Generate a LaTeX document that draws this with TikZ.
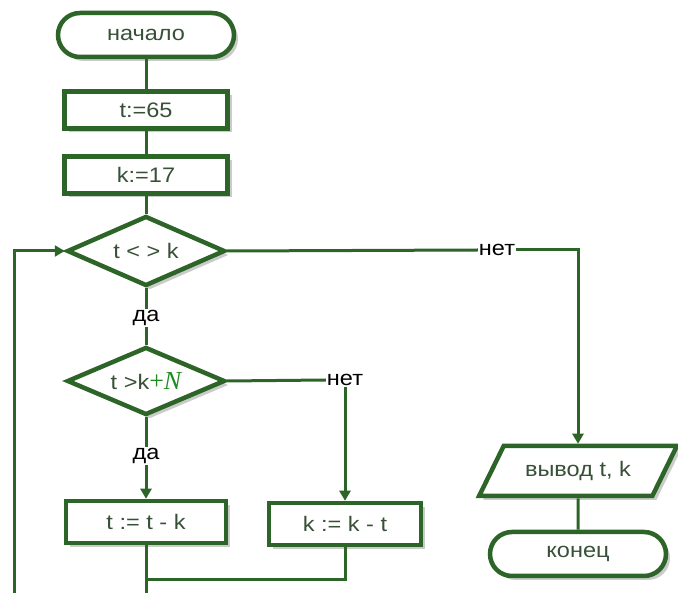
\documentclass[tikz,border=0pt]{standalone}
\usepackage{fontspec}
\setmainfont[FakeStretch=1.12]{Liberation Sans}
\newfontfamily\serifN{Liberation Serif}
\usetikzlibrary{shapes.geometric,shapes.misc,shadows,arrows.meta}
\definecolor{lc}{RGB}{45,100,40}
\definecolor{tc}{RGB}{55,80,55}
\definecolor{ng}{RGB}{30,140,30}
\begin{document}
\begin{tikzpicture}[x=1pt,y=-1pt,
 base/.style={draw=lc, line width=4.5pt, fill=white, text=tc, font=\fontsize{21}{23}\selectfont, inner sep=0pt,
   drop shadow={shadow xshift=4pt, shadow yshift=-4pt, fill=black!40, opacity=0.5}},
 term/.style={base, rounded rectangle, minimum width=176pt, minimum height=44pt},
 proc/.style={base, rectangle, minimum width=163pt, minimum height=37pt},
 dec/.style={base, diamond, aspect=2.2, minimum width=158pt, minimum height=68pt},
 io/.style={base, trapezium, trapezium left angle=48, trapezium right angle=132, trapezium stretches=true, minimum width=198pt, minimum height=50pt},
 lab/.style={font=\fontsize{21}{23}\selectfont, text=black, inner sep=1pt, fill=white},
 conn/.style={draw=lc, line width=3pt},
 arr/.style={conn, -{Triangle[length=10pt,width=11pt]}}
]
\fill[white] (0,0) rectangle (678,593);
\useasboundingbox (0,0) rectangle (678,593);

\node[term] (start) at (146,35) {начало};
\node[proc] (t65) at (146,110) {t:=65};
\node[proc] (k17) at (146,175) {k:=17};
\node[dec, minimum height=70pt] (d1) at (146,251) {t < > k};
\node[lab] (da1) at (146,318) {да};
\node[dec] (d2) at (146,381) {t >k{\color{ng}\serifN\fontsize{26}{26}\selectfont +\itshape N}};
\node[lab] (net2) at (345,380) {нет};
\node[lab] (da2) at (146,456) {да};
\node[proc, minimum width=160pt, minimum height=42pt] (tbox) at (146,522) {t := t - k};
\node[proc, minimum width=152pt, minimum height=42pt] (kbox) at (345,524) {k := k - t};
\node[lab] (net1) at (497,250) {нет};
\node[io] (out) at (578,471) {вывод t, k};
\node[term] (end) at (578,554) {конец};

\coordinate (bot) at (146,593);
\coordinate (join) at (146,580);
\coordinate (loopb) at (14,593);
\coordinate (loopt) at (14,251);

\draw[conn] (start.south) -- (t65.north);
\draw[conn] (t65.south) -- (k17.north);
\draw[conn] (k17.south) -- (d1.north);
\draw[conn] (d1.south) -- (da1.north);
\draw[conn] (da1.south) -- (d2.north);
\draw[conn] (d1.east) -- (net1.west);
\draw[arr] (net1.east) -| (out.north);
\draw[conn] (d2.east) -- (net2.west);
\draw[arr] (net2.south) -- (kbox.north);
\draw[conn] (d2.south) -- (da2.north);
\draw[arr] (da2.south) -- (tbox.north);
\draw[conn] (tbox.south) -- (bot);
\draw[conn] (kbox.south) |- (join);
\draw[arr] (loopb) -- (loopt) -- (d1.west);
\draw[conn] (out.south) -- (end.north);
\end{tikzpicture}
\end{document}
